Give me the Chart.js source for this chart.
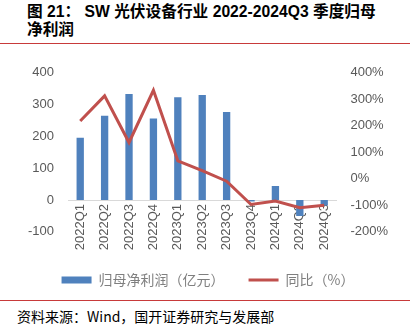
<!DOCTYPE html>
<html>
<head>
<meta charset="utf-8">
<script src="https://cdn.jsdelivr.net/npm/chart.js@4.4.0/dist/chart.umd.min.js"></script>
<style>
    body { margin: 0; background: #fff; width: 410px; height: 327px; position: relative; overflow: hidden; }
    #title { position: absolute; left: 27px; top: 3px; font: bold 15.7px/18px "Liberation Sans", "Noto Sans CJK SC", sans-serif; color: #000; }
    .rule { position: absolute; left: 0; width: 410px; height: 1px; background: #c83a3a; }
    #source { position: absolute; left: 17px; top: 306px; font: 14px "Noto Sans CJK SC", sans-serif; color: #000; }
    #wrap { position: absolute; left: 0; top: 51px; }
</style>
</head>
<body>
<div id="title">图 21：&nbsp;SW 光伏设备行业 2022-2024Q3 季度归母<br>净利润</div>
<div class="rule" style="top: 43px;"></div>
<div id="wrap"><canvas id="chart" width="410" height="249"></canvas></div>
<div class="rule" style="top: 300px;"></div>
<div id="source">资料来源：Wind，国开证券研究与发展部</div>
<script>
document.addEventListener('DOMContentLoaded', () => {
    const quarters = ['2022Q1', '2022Q2', '2022Q3', '2022Q4', '2023Q1', '2023Q2', '2023Q3', '2023Q4', '2024Q1', '2024Q2', '2024Q3'];
    const netProfit = [196, 265, 333, 256, 323, 330, 277, -5, 44, -50, -17];   // 亿元
    const yoy = [218, 313, 137, 334, 68, 31, -9, -97, -84, -109, -100];         // %

    const tickColor = '#595959';
    const tickFont = { family: '"Liberation Sans", Arial, sans-serif', size: 13 };

    new Chart(document.getElementById('chart'), {
        data: {
            labels: quarters,
            datasets: [
                {
                    type: 'bar',
                    label: '归母净利润（亿元）',
                    data: netProfit,
                    backgroundColor: '#4f81bd',
                    yAxisID: 'y',
                    barPercentage: 0.3,
                    categoryPercentage: 1,
                    order: 2
                },
                {
                    type: 'line',
                    label: '同比（%）',
                    data: yoy,
                    borderColor: '#c0504d',
                    backgroundColor: '#c0504d',
                    borderWidth: 3,
                    pointRadius: 0,
                    tension: 0,
                    yAxisID: 'y1',
                    order: 1
                }
            ]
        },
        options: {
            responsive: false,
            animation: false,
            layout: { padding: { left: 14, right: 8, top: 8, bottom: 3 } },
            plugins: {
                tooltip: { enabled: false },
                legend: {
                    position: 'bottom',
                    // empty title only used as a spacer above the legend row
                    title: { display: true, text: ' ', font: { size: 1 }, padding: { top: 16, bottom: 0 } },
                    labels: {
                        usePointStyle: true,
                        pointStyleWidth: 30,
                        boxHeight: 7,
                        padding: 24,
                        color: '#7f7f7f',
                        font: { family: '"Noto Sans CJK SC", sans-serif', size: 14 },
                        generateLabels: (chart) => chart.data.datasets.map((ds, i) => ({
                            text: ds.label,
                            datasetIndex: i,
                            fillStyle: ds.backgroundColor,
                            strokeStyle: ds.type === 'line' ? ds.borderColor : ds.backgroundColor,
                            lineWidth: ds.type === 'line' ? 3 : 0,
                            pointStyle: ds.type === 'line' ? 'line' : 'rect',
                            fontColor: '#7f7f7f'
                        }))
                    }
                }
            },
            scales: {
                x: {
                    position: { y: 0 },
                    grid: { display: false, drawTicks: false },
                    border: { display: true, color: '#d9d9d9', width: 1 },
                    ticks: { color: tickColor, font: tickFont, maxRotation: 90, minRotation: 90, padding: 4 }
                },
                y: {
                    position: 'left',
                    min: -100,
                    max: 400,
                    grid: { display: false, drawTicks: false },
                    border: { display: false },
                    ticks: { stepSize: 100, color: tickColor, font: tickFont, padding: 14 }
                },
                y1: {
                    position: 'right',
                    min: -200,
                    max: 400,
                    grid: { display: false, drawTicks: false },
                    border: { display: false },
                    ticks: { stepSize: 100, color: tickColor, font: tickFont, padding: 14, callback: v => v + '%' }
                }
            }
        }
    });
});
</script>
</body>
</html>
